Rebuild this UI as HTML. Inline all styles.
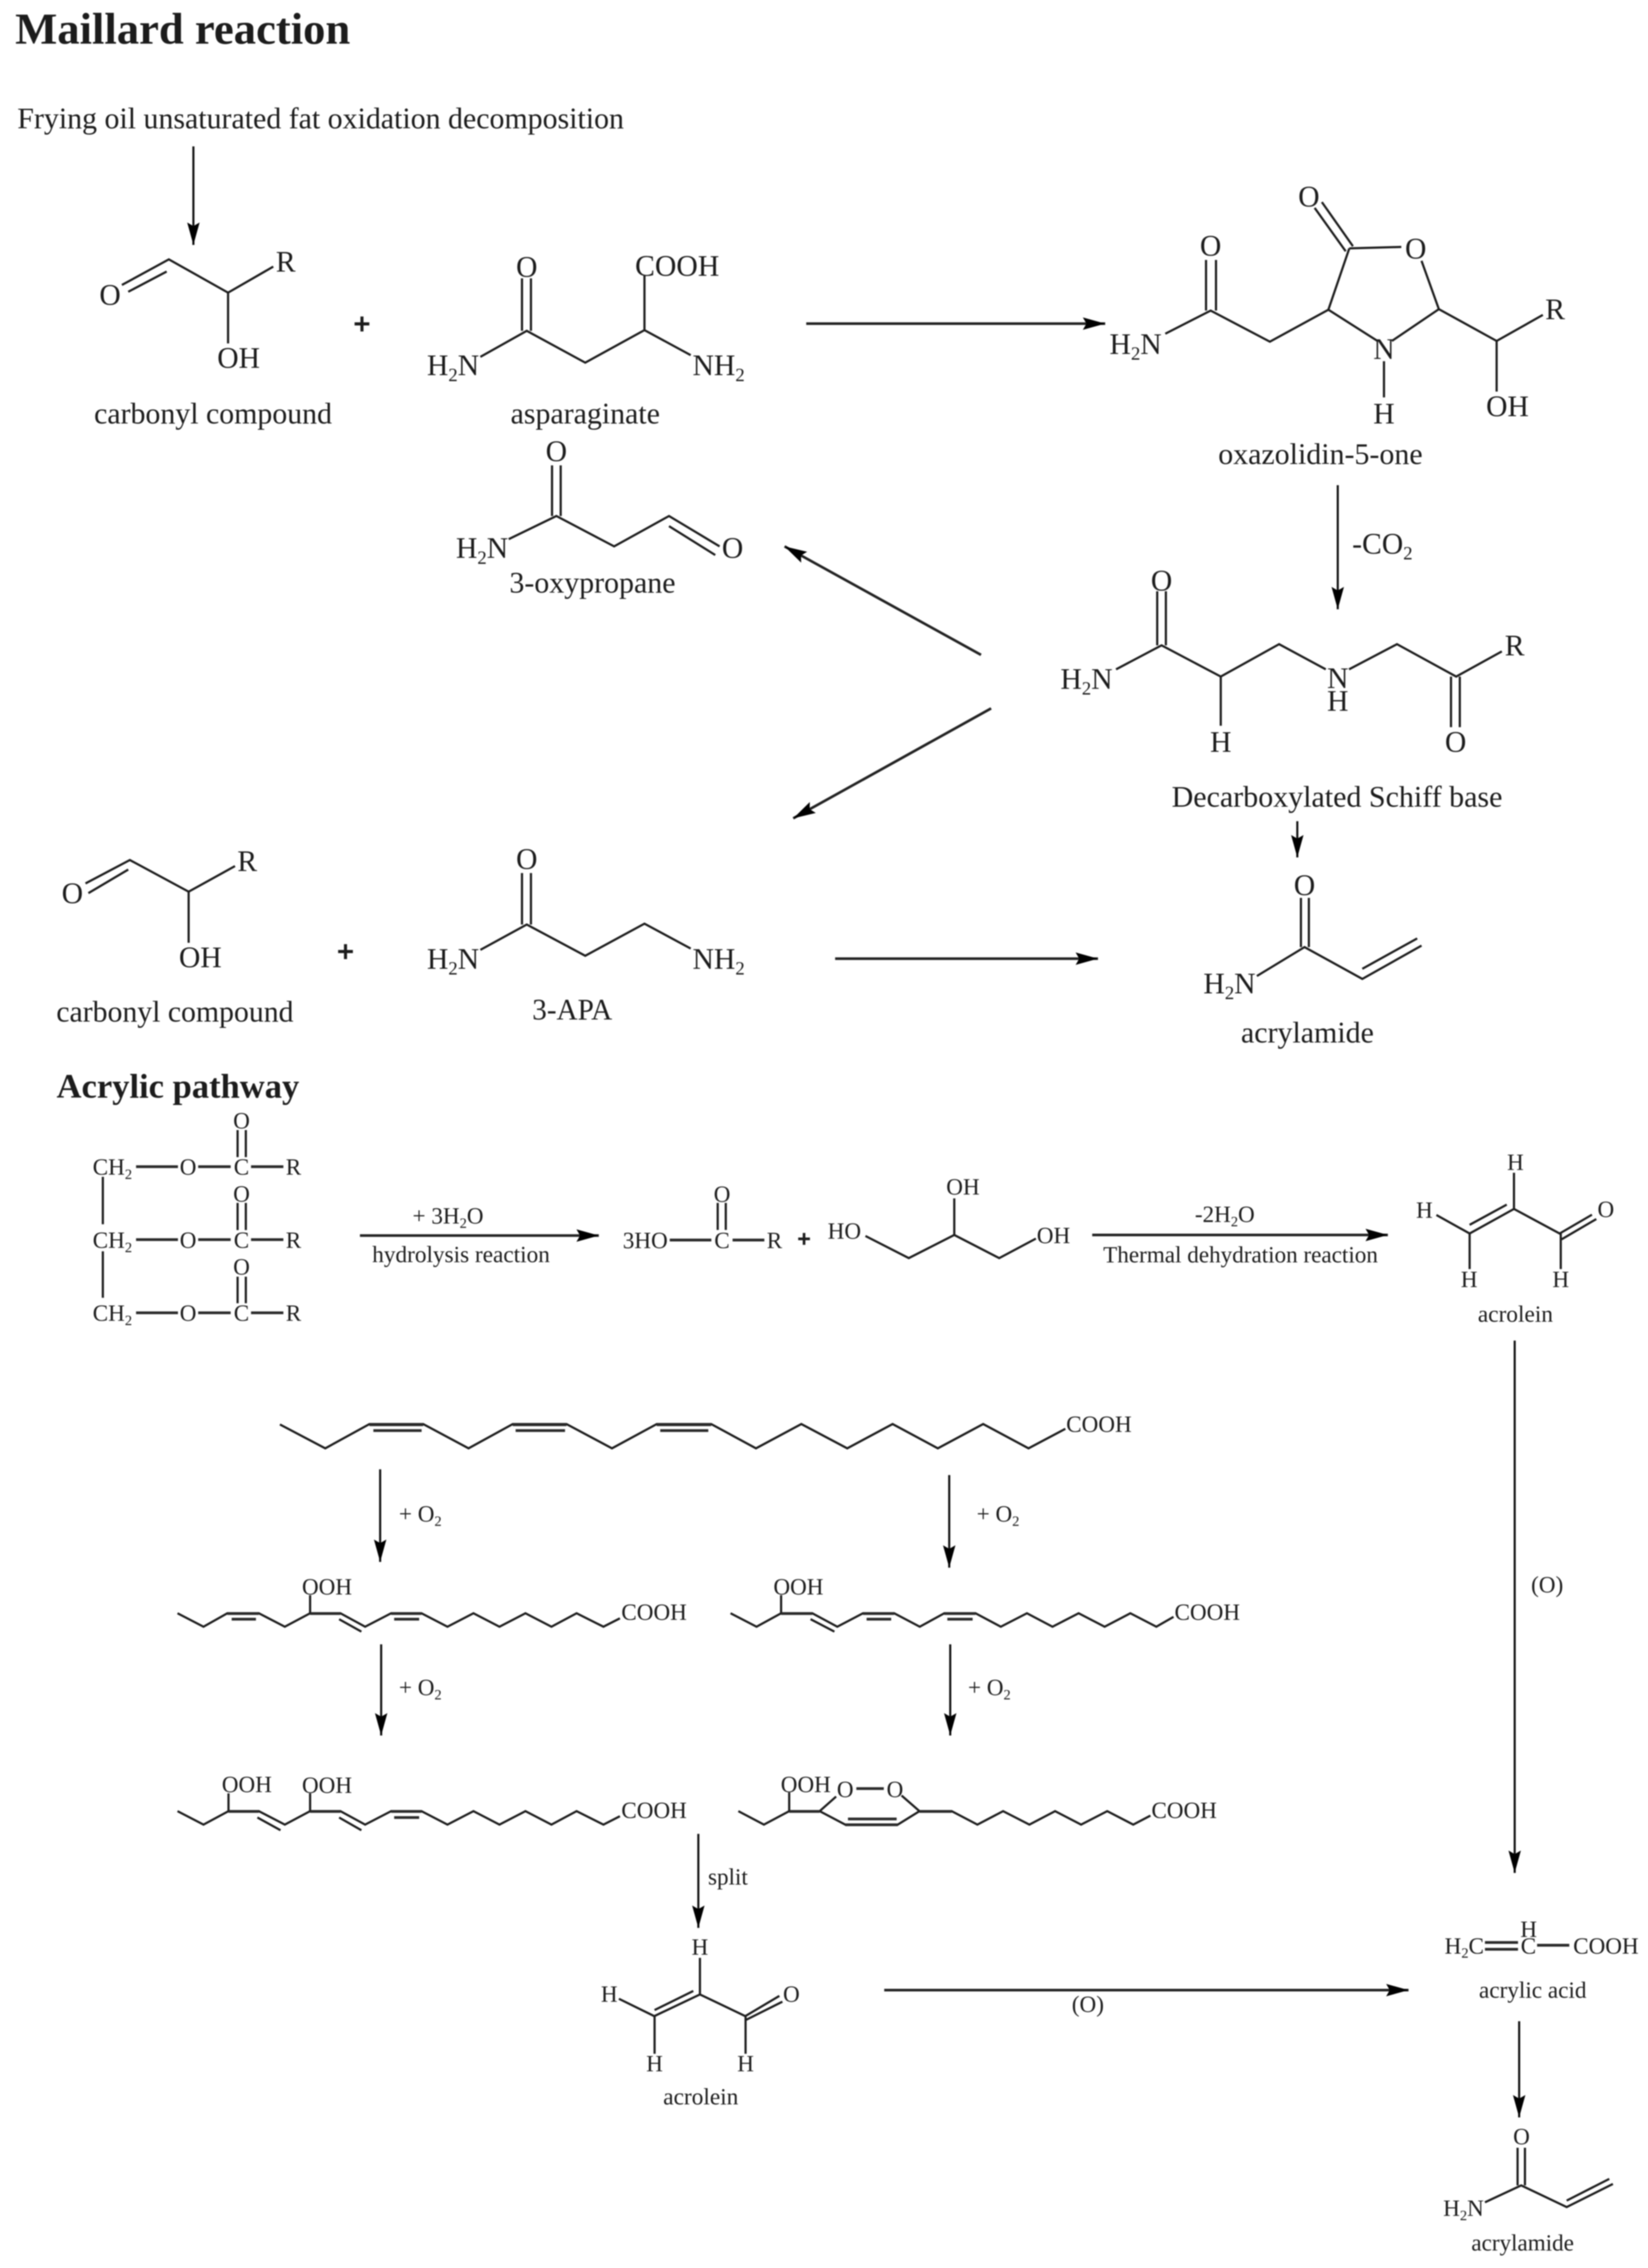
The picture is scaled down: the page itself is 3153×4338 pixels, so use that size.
<!DOCTYPE html>
<html><head><meta charset="utf-8"><title>Maillard reaction</title>
<style>
html,body{margin:0;padding:0;background:#fff}
svg{display:block;width:3153px;height:4338px;filter:blur(1px)}
text{font-family:"Liberation Serif",serif;fill:#1c1c1c;white-space:pre}
.a{font-size:20.5px;text-anchor:middle}
.s{font-size:16px;text-anchor:middle}
.l{font-size:20.5px;text-anchor:middle}
.st{text-anchor:start}
.p{stroke:#1c1c1c;stroke-width:.7px;font-weight:bold}
.b{fill:none;stroke:#1c1c1c;stroke-width:1.5;stroke-linejoin:miter}
.t{fill:none;stroke:#2a2a2a;stroke-width:1.9}
.r{fill:none;stroke:#111;stroke-width:1.45;marker-end:url(#h)}
.rh{fill:none;stroke:#222;stroke-width:1.8;marker-end:url(#h)}
</style></head><body>
<svg xmlns="http://www.w3.org/2000/svg" viewBox="0 0 1141 1570" preserveAspectRatio="none">
<defs><marker id="h" markerUnits="userSpaceOnUse" markerWidth="18" markerHeight="12" refX="15.5" refY="5" orient="auto"><path d="M0,.7L15.5,5L0,9.3L2.5,5z" fill="#000"/></marker></defs>
<rect width="1141" height="1570" fill="#fff"/>
<g transform="translate(0.2,-0.3) scale(1,1.0014)">

<text x="10.3" y="30.5" font-weight="bold" font-size="30.8" textLength="232" lengthAdjust="spacingAndGlyphs" fill="#111">Maillard reaction</text>
<text x="11.8" y="89" font-size="20.5" textLength="420" lengthAdjust="spacingAndGlyphs">Frying oil unsaturated fat oxidation decomposition</text>
<path class="r" d="M133.7,101.5V169.6"/>

<!-- carbonyl 1 -->
<path class="b" d="M84.2,197.3L116.7,179.6L157.7,202.6L189,184.6M88.6,202L115.2,188M157.7,202.6V237.7"/>
<text class="a" x="76" y="211">O</text><text class="a" x="197.6" y="188">R</text><text class="a" x="165" y="254.5">OH</text>
<text class="l" x="147.3" y="293" textLength="164.7" lengthAdjust="spacingAndGlyphs">carbonyl compound</text>
<text class="a p" x="250.4" y="231">+</text>

<!-- asparaginate -->
<path class="b" d="M361.2,192.7V229M367.4,192.7V229M332.4,247L364.5,229L405,251L446,228.5V190.4M446,228.5L478,245.8"/>
<text class="a" x="364.5" y="191.6">O</text>
<text class="a st" x="439.5" y="191" textLength="58.3" lengthAdjust="spacingAndGlyphs">COOH</text>
<text class="a st" x="295.4" y="259.7">H<tspan font-size="13" dy="4">2</tspan><tspan dy="-4">N</tspan></text>
<text class="a st" x="479.3" y="259.7">NH<tspan font-size="13" dy="4">2</tspan></text>
<text class="l" x="405" y="293" textLength="103.4" lengthAdjust="spacingAndGlyphs">asparaginate</text>

<path class="rh" d="M558,224H765"/>

<!-- oxazolidinone -->
<path class="b" d="M915,140L936.5,170.5M910,144L931.5,174M934,172L970,171M934,172L919.5,214.4L953.5,236M963.5,236L996,214L984,180.6M996,214L1036,236L1068,218M1036,236V271M958,250V275M919.5,214.4L879,236.5L838,215L806.6,231M834.8,180V215M841.7,180V215"/>
<text class="a" x="906" y="143">O</text><text class="a" x="838" y="177">O</text><text class="a" x="980" y="179">O</text>
<text class="a" x="958" y="248.5">N</text><text class="a" x="958" y="293">H</text><text class="a" x="1076.5" y="221">R</text><text class="a" x="1043.5" y="288">OH</text>
<text class="a st" x="768" y="245">H<tspan font-size="13" dy="4">2</tspan><tspan dy="-4">N</tspan></text>
<text class="l" x="914" y="321" textLength="141.5" lengthAdjust="spacingAndGlyphs">oxazolidin-5-one</text>

<path class="r" d="M926,335.7V421.5"/>
<text class="a st" x="936" y="383">-CO<tspan font-size="13" dy="4">2</tspan></text>

<!-- Schiff base -->
<path class="b" d="M801,409V446.4M807,409V446.4M772.5,463L804,446.4L845,468V502M845,468L885.4,445.6L917.7,463M933.8,463L967,445.6L1008,468L1039.6,450.6M1004.4,468V503M1010.5,468V503"/>
<text class="a" x="804" y="408.6">O</text><text class="a" x="845" y="520">H</text><text class="a" x="1007.6" y="520">O</text><text class="a" x="1048.5" y="453.4">R</text>
<text class="a" x="926" y="476">N</text><text class="a" x="926" y="491.6">H</text>
<text class="a st" x="734" y="476.4">H<tspan font-size="13" dy="4">2</tspan><tspan dy="-4">N</tspan></text>
<text class="l" x="925.5" y="558" textLength="229" lengthAdjust="spacingAndGlyphs">Decarboxylated Schiff base</text>
<path class="r" d="M898,568V593"/>

<!-- 3-oxypropane -->
<path class="b" d="M382,322V357M388,322V357M352,373L385,357L425,378L463,357L498,378M463,364L495,384"/>
<text class="a" x="385" y="319">O</text><text class="a" x="507" y="386">O</text>
<text class="a st" x="315.5" y="386">H<tspan font-size="13" dy="4">2</tspan><tspan dy="-4">N</tspan></text>
<text class="l" x="410" y="410" textLength="115" lengthAdjust="spacingAndGlyphs">3-oxypropane</text>

<path class="rh" d="M679,453L543,378"/>
<path class="rh" d="M686,490L549,566"/>

<!-- carbonyl 2 -->
<path class="b" d="M59,611L89.7,594.8L130.4,616.7L162.5,599M61,617.7L88.6,601.4M130.4,616.7V652"/>
<text class="a" x="49.9" y="624.7">O</text><text class="a" x="171" y="602.4">R</text><text class="a" x="138.5" y="669">OH</text>
<text class="l" x="120.9" y="706.5" textLength="164.2" lengthAdjust="spacingAndGlyphs">carbonyl compound</text>
<text class="a p" x="239" y="665">+</text>

<!-- 3-APA -->
<path class="b" d="M361.2,603.8V639.4M367.4,603.8V639.4M332.4,656.9L364.5,639.4L405,661L446,638.8L478,656"/>
<text class="a" x="364.5" y="601">O</text>
<text class="a st" x="295.4" y="670">H<tspan font-size="13" dy="4">2</tspan><tspan dy="-4">N</tspan></text>
<text class="a st" x="479.3" y="670">NH<tspan font-size="13" dy="4">2</tspan></text>
<text class="l" x="396" y="705" textLength="55.4" lengthAdjust="spacingAndGlyphs">3-APA</text>

<path class="rh" d="M578,663H760"/>

<!-- acrylamide -->
<path class="b" d="M900.5,621V655M906,621V655M870,675L903,655L943,677L984,654M943,670L981,649"/>
<text class="a" x="903" y="619">O</text>
<text class="a st" x="833" y="687">H<tspan font-size="13" dy="4">2</tspan><tspan dy="-4">N</tspan></text>
<text class="l" x="905" y="721" textLength="92" lengthAdjust="spacingAndGlyphs">acrylamide</text>

<text x="39" y="759" font-weight="bold" font-size="23.8" textLength="168" lengthAdjust="spacingAndGlyphs" fill="#111">Acrylic pathway</text>

<!-- triglyceride -->
<g transform="translate(0,-1.2)">
<g>
<path class="t" d="M94,808H123M137,808H159.5M173.6,808H196"/>
<path class="b" d="M164.3,782.7V801.4M170,782.7V801.4"/>
<text class="s st" x="64" y="813.5">CH<tspan font-size="10" dy="3">2</tspan></text>
<text class="s" x="130" y="813.5">O</text><text class="s" x="167" y="813.5">C</text><text class="s" x="203" y="813.5">R</text><text class="s" x="167" y="781.5">O</text>
</g>
<g>
<path class="t" d="M94,858.4H123M137,858.4H159.5M173.6,858.4H196"/>
<path class="b" d="M164.3,833V851.8M170,833V851.8"/>
<text class="s st" x="64" y="864">CH<tspan font-size="10" dy="3">2</tspan></text>
<text class="s" x="130" y="864">O</text><text class="s" x="167" y="864">C</text><text class="s" x="203" y="864">R</text><text class="s" x="167" y="832">O</text>
</g>
<g>
<path class="t" d="M94,909H123M137,909H159.5M173.6,909H196"/>
<path class="b" d="M164.3,884V902.4M170,884V902.4"/>
<text class="s st" x="64" y="914.5">CH<tspan font-size="10" dy="3">2</tspan></text>
<text class="s" x="130" y="914.5">O</text><text class="s" x="167" y="914.5">C</text><text class="s" x="203" y="914.5">R</text><text class="s" x="167" y="882.5">O</text>
</g>
<path class="b" d="M71,815V847.8M71,866.5V898.6"/>
</g>

<path class="rh" d="M249,854.4H414.4"/>
<text class="s" x="310" y="846">+ 3H<tspan font-size="10" dy="3">2</tspan><tspan dy="-3">O</tspan></text>
<text class="s" x="319" y="872.7" textLength="123" lengthAdjust="spacingAndGlyphs">hydrolysis reaction</text>

<!-- 3HO-C-R -->
<path class="t" d="M463.5,857.5H492.3M507,857.5H529"/>
<path class="b" d="M496.7,831.8V850.5M502.3,831.8V850.5"/>
<text class="s st" x="431" y="863">3HO</text><text class="s" x="499.7" y="863">C</text><text class="s" x="536" y="863">R</text><text class="s" x="499.7" y="831">O</text>
<text class="s p" x="556.5" y="862">+</text>

<!-- glycerol -->
<path class="b" d="M599,854.7L629,870L660.5,854L691.6,870L717,856.5M660.5,854V828.7"/>
<text class="s" x="584.4" y="856.5">HO</text><text class="s" x="666.5" y="826">OH</text><text class="s" x="729.2" y="859.5">OH</text>

<path class="rh" d="M756,854H960.7"/>
<text class="s" x="847.8" y="845">-2H<tspan font-size="10" dy="3">2</tspan><tspan dy="-3">O</tspan></text>
<text class="s" x="858.7" y="873" textLength="190.2" lengthAdjust="spacingAndGlyphs">Thermal dehydration reaction</text>

<!-- acrolein right -->
<path class="b" d="M994.3,840.2L1017.3,853L1048,836L1079.6,853L1102,840M1017.3,847L1043,833M1081,857L1105,843M1017.3,853V877.6M1048,836V811M1080.4,853V877.6"/>
<text class="s" x="1049" y="809">H</text><text class="s" x="986" y="842">H</text><text class="s" x="1017" y="890">H</text><text class="s" x="1080.4" y="890">H</text><text class="s" x="1111.6" y="841.5">O</text>
<text class="s" x="1049" y="914" textLength="52" lengthAdjust="spacingAndGlyphs">acrolein</text>

<path class="r" d="M1048.5,927V1295"/>
<text class="s" x="1071" y="1101">(O)</text>

<!-- linoleic top chain -->
<path class="b" d="M193.6,985L225,1001.5L255.6,984.7H292.8L324.2,1001.5L354.8,984.7H392L423.5,1001.5L454.5,984.7H492.2L523.2,1001.5L554.6,984.7L586.4,1001.5L617.8,984.7L649.1,1001.5L680.5,984.7L711.9,1001.5L737.4,988"/>
<path class="t" d="M255.6,985.2H292.8M354.8,985.2H392M454.5,985.2H492.2M258.3,989.2H291.7M356.8,989.2H391M456.9,989.2H490.2"/>
<text class="s st" x="738" y="990">COOH</text>

<path class="r" d="M263,1016V1080"/>
<text class="s st" x="276" y="1052">+ O<tspan font-size="10" dy="3">2</tspan></text>
<path class="r" d="M657,1020V1084"/>
<text class="s st" x="676" y="1052">+ O<tspan font-size="10" dy="3">2</tspan></text>

<!-- chain A -->
<path class="b" d="M122.7,1115.5L140.7,1124.8L157.2,1115.5H179L197,1124.8L214.5,1115.5H235.5L252.6,1124.8L270.6,1115.5H291.6L309.6,1124.8L327.6,1115.5L345.6,1124.8L363.6,1115.5L381.6,1124.8L399,1115.5L417.6,1124.8L429,1119M234.6,1119.6L250,1128.2M214.5,1115.5V1103"/>
<path class="t" d="M157.2,1115.7H179M214.5,1115.7H235.5M270.6,1115.7H291.6M160.2,1119.6H177M272.7,1119.6H290"/>
<text class="s" x="226.2" y="1102.5">OOH</text>
<text class="s st" x="430" y="1120">COOH</text>

<!-- chain B -->
<path class="b" d="M505.6,1115.5L523.6,1124.8L540.6,1115.5H562.2L579.5,1124.8L597.3,1115.5H618.9L636.6,1124.8L653.6,1115.5H675.2L692.7,1124.8L710.8,1115.5L728.5,1124.8L746.6,1115.5L764.6,1124.8L782.4,1115.5L800.4,1124.8L812.3,1118M561,1119.6L577.5,1128.2M540.6,1115.5V1103"/>
<path class="t" d="M540.6,1115.7H562.2M597.3,1115.7H618.9M653.6,1115.7H675.2M599.8,1119.6H616.8M655.7,1119.6H673.2"/>
<text class="s" x="552.6" y="1102.5">OOH</text>
<text class="s st" x="813" y="1120">COOH</text>

<path class="r" d="M263.7,1137V1200"/>
<text class="s st" x="276" y="1172">+ O<tspan font-size="10" dy="3">2</tspan></text>
<path class="r" d="M657.7,1137V1200"/>
<text class="s st" x="670" y="1172">+ O<tspan font-size="10" dy="3">2</tspan></text>

<!-- chain C -->
<path class="b" d="M122.7,1252.3L140.7,1261.6L158,1252.3H179L197,1261.6L214.5,1252.3H235.5L252.6,1261.6L270.6,1252.3H291.6L309.6,1261.6L327.6,1252.3L345.6,1261.6L363.6,1252.3L381.6,1261.6L399,1252.3L417.6,1261.6L429,1255.8M178,1256.7L194,1265.5M234.6,1256.7L250,1265.5M158,1252.3V1240M214.5,1252.3V1240"/>
<path class="t" d="M158,1252.5H179M214.5,1252.5H235.5M270.6,1252.5H291.6M272.7,1256.7H290"/>
<text class="s" x="170.7" y="1239">OOH</text><text class="s" x="226.2" y="1239.5">OOH</text>
<text class="s st" x="430" y="1257">COOH</text>

<!-- chain D -->
<path class="b" d="M511,1252.3L528.7,1261.6L546.2,1252.3H567.3L585,1261.6H621.4L636.4,1252.3H658.7L676.5,1261.6L694.3,1252.3L712.5,1261.6L730.3,1252.3L748.3,1261.6L766.4,1252.3L784.4,1261.6L796.3,1255.4M567.3,1252.3L578.7,1242.2M624,1241.5L636.4,1252.3M546.2,1252.3V1239.4"/>
<path class="t" d="M546.2,1252.5H567.3M636.4,1252.5H658.7M585,1261.7H621.4M592.7,1236.7H611.7M586.9,1257.7H620.6"/>
<text class="s" x="557.7" y="1239">OOH</text><text class="s" x="585" y="1242.5">O</text><text class="s" x="619.4" y="1242.5">O</text>
<text class="s st" x="797" y="1257">COOH</text>

<path class="r" d="M483.3,1268V1333"/>
<text class="s st" x="490" y="1303">split</text>

<!-- acrolein bottom -->
<path class="b" d="M428.3,1382L452.8,1394L484.4,1379L515.8,1394L539.4,1380M453,1389.8L479.8,1376.6M516.5,1396.5L541.5,1384M484.4,1379V1353.7M453,1394V1420M516,1394V1420"/>
<text class="s" x="484.4" y="1351.5">H</text><text class="s" x="421.6" y="1384">H</text><text class="s" x="453" y="1432">H</text><text class="s" x="516" y="1432">H</text><text class="s" x="547.7" y="1384">O</text>
<text class="s" x="485" y="1455" textLength="52" lengthAdjust="spacingAndGlyphs">acrolein</text>

<path class="rh" d="M612,1376H975"/>
<text class="s" x="753" y="1391">(O)</text>

<!-- acrylic acid -->
<g transform="translate(0,-0.8)">
<path class="t" d="M1027.9,1343.9H1050.8M1027.9,1348.6H1050.8M1064,1345.8H1086.3"/>
<text class="s st" x="1000" y="1351.5">H<tspan font-size="10" dy="3">2</tspan><tspan dy="-3">C</tspan></text>
<text class="s" x="1058" y="1351.5">C</text><text class="s" x="1058.2" y="1340">H</text>
<text class="s st" x="1089" y="1351.5">COOH</text>
<text class="s" x="1061" y="1382" textLength="74.4" lengthAdjust="spacingAndGlyphs">acrylic acid</text>
</g>

<path class="r" d="M1051.6,1397.5V1464"/>

<!-- acrylamide bottom -->
<path class="b" d="M1050.5,1485V1511M1055.6,1485V1511M1027.9,1522.7L1053,1511L1084.5,1526L1116.5,1510M1084.5,1521.5L1114,1506.5"/>
<text class="s" x="1053.2" y="1482.5">O</text>
<text class="s st" x="999" y="1532">H<tspan font-size="10" dy="3">2</tspan><tspan dy="-3">N</tspan></text>
<text class="s" x="1054" y="1556" textLength="71" lengthAdjust="spacingAndGlyphs">acrylamide</text>
</g>
</svg>
</body></html>
